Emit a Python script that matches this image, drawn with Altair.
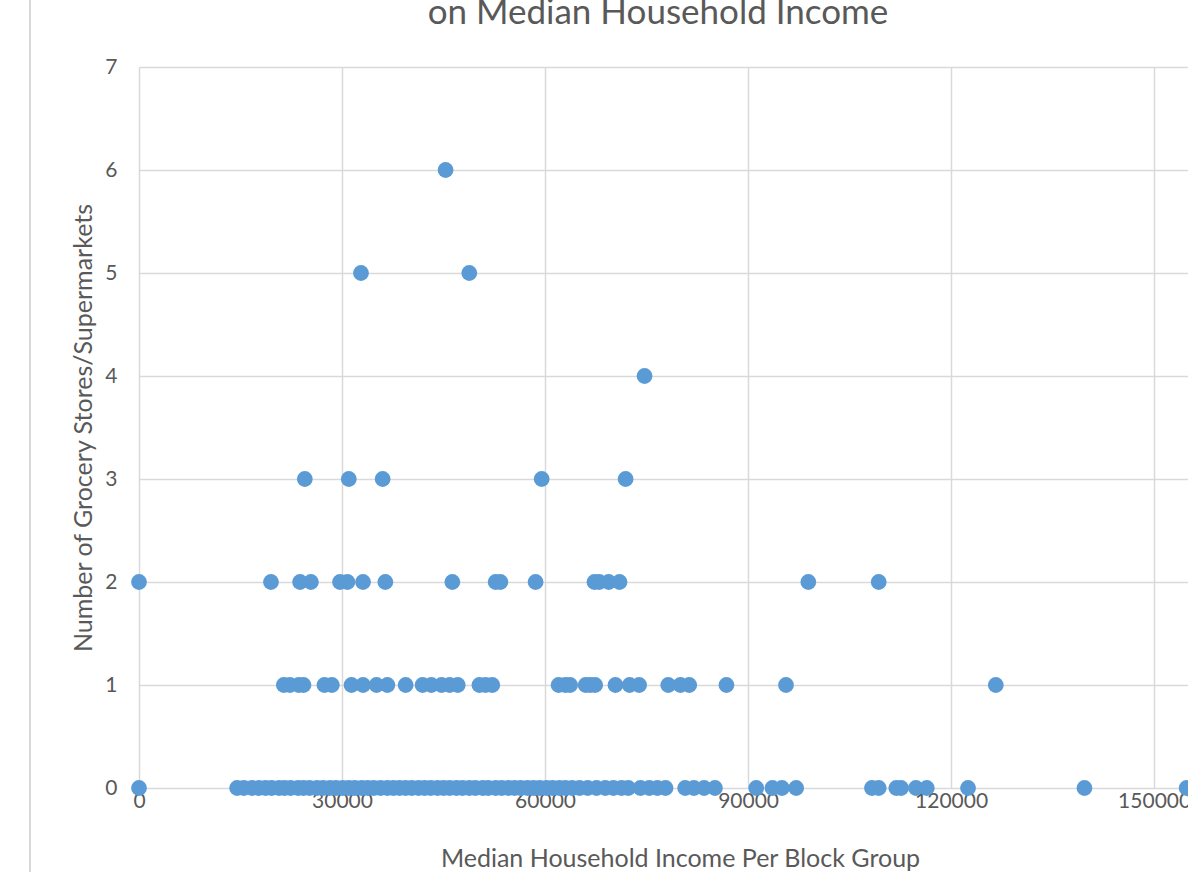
import altair as alt
import pandas as pd

# Median household income per block group, grouped by number of grocery stores
income_stores_0 = [0, 14500, 15500, 16700, 17700, 18700, 19600, 20700, 21500, 22400, 23500,
                   24300, 25200, 26300, 27200, 28200, 29100, 30100, 31000, 31900, 32900,
                   33800, 34700, 35700, 36700, 37600, 38500, 39400, 40300, 41300, 42200,
                   43100, 44100, 45000, 45900, 46900, 47800, 48800, 49700, 50800, 51600,
                   52700, 53600, 54600, 55500, 56400, 57400, 58300, 59200, 60200, 61100,
                   62100, 63000, 64000, 65100, 66300, 67600, 68900, 70100, 71300, 72300,
                   74100, 75400, 76600, 77800, 80700, 82000, 83500, 85100, 91200, 93600,
                   95000, 97100, 108300, 109300, 111900, 112600, 114800, 116400, 122500,
                   139700, 154800]
income_stores_1 = [21400, 22300, 23600, 24300, 27400, 28500, 31400, 33100, 35100, 36700,
                   39400, 41900, 43200, 44700, 45900, 47100, 50300, 51200, 52200, 62000,
                   63000, 63700, 66000, 66700, 67400, 70400, 72500, 73900, 78200, 80000,
                   81300, 86800, 95600, 126600]
income_stores_2 = [0, 19500, 23800, 25400, 29700, 30800, 33100, 36400, 46300, 52700, 53400,
                   58600, 67300, 68000, 69400, 71000, 98900, 109300]
income_stores_3 = [24500, 31000, 36000, 59500, 71900]
income_stores_4 = [74700]
income_stores_5 = [32800, 48800]
income_stores_6 = [45300]

x_ticks = [0, 30000, 60000, 90000, 120000, 150000]
y_ticks = [0, 1, 2, 3, 4, 5, 6, 7]
title_text = ["on Median Household Income"]

rows = []
for count, incomes in enumerate([income_stores_0, income_stores_1, income_stores_2,
                                  income_stores_3, income_stores_4, income_stores_5,
                                  income_stores_6]):
    for inc in incomes:
        rows.append({"income": inc, "stores": count})
df = pd.DataFrame(rows)

FONT = "Lato"
TXT = "#595959"
GRID = "#D9D9D9"
W, H = 1049, 721

points = alt.Chart(df).mark_circle(size=250, color="#5B9BD5", opacity=1).encode(
    x=alt.X("income:Q",
            scale=alt.Scale(domain=[0, 155000], nice=False, zero=True),
            axis=alt.Axis(values=x_ticks, format="d", title="Median Household Income Per Block Group",
                          grid=True, gridColor=GRID, gridWidth=1.5, domain=False, ticks=False,
                          labelFont=FONT, labelFontSize=21, labelColor=TXT, labelPadding=2,
                          labelFlush=False, labelOverlap=False,
                          titleFont=FONT, titleFontSize=25, titleFontWeight="normal", titleColor=TXT,
                          titleX=541, titleY=70, titleBaseline="middle")),
    y=alt.Y("stores:Q",
            scale=alt.Scale(domain=[0, 7], nice=False),
            axis=alt.Axis(values=y_ticks, format="d", title="Number of Grocery Stores/Supermarkets",
                          grid=True, gridColor=GRID, gridWidth=1.5, domain=False, ticks=False,
                          labelFont=FONT, labelFontSize=21, labelColor=TXT, labelPadding=22,
                          labelFlush=False,
                          titleFont=FONT, titleFontSize=25, titleFontWeight="normal", titleColor=TXT,
                          titleX=-56, titleY=H / 2, titleBaseline="middle", titleAngle=270)),
)

border = alt.Chart(df).mark_rule(color=GRID, strokeWidth=1.5).encode(
    x=alt.value(-109), y=alt.value(-67), y2=alt.value(H + 84)
)

title = alt.Chart(pd.DataFrame({"t": title_text})).mark_text(
    font=FONT, fontSize=35, color=TXT, align="center", baseline="alphabetic"
).encode(text="t:N", x=alt.value(519), y=alt.value(-43))

chart = alt.layer(border, points, title).properties(
    width=W, height=H,
    autosize=alt.AutoSizeParams(type="none"),
    padding={"left": 139, "top": 67, "right": 0, "bottom": 84},
).configure_view(stroke=None)

chart.save("out.html", embed_options={"renderer": "svg", "actions": False})
